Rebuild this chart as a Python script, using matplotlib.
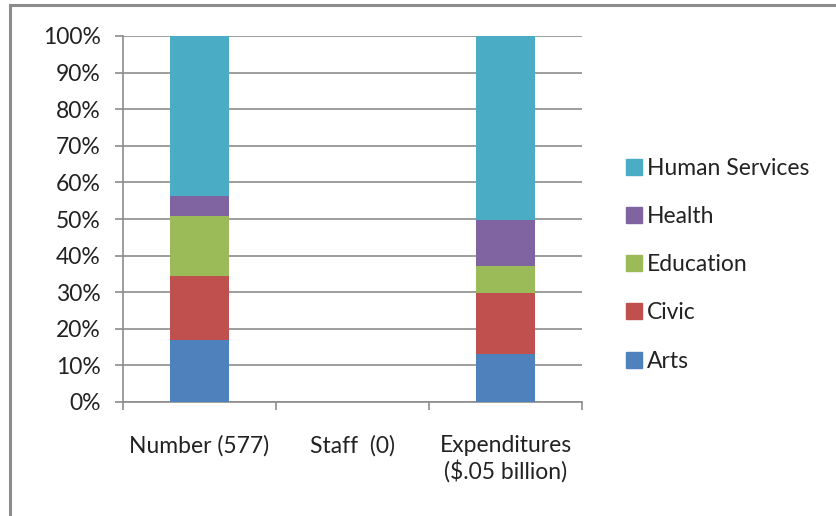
import matplotlib.pyplot as plt
import numpy as np
from matplotlib.lines import Line2D

plt.rcParams['font.family'] = ['Lato', 'DejaVu Sans']

categories = ['Number (577)', 'Staff  (0)', 'Expenditures\n($.05 billion)']
series = ['Arts', 'Civic', 'Education', 'Health', 'Human Services']
arts = [16.9, 0, 13.2]
civic = [17.6, 0, 16.7]
education = [16.4, 0, 7.3]
health = [5.4, 0, 12.4]
human_services = [43.7, 0, 50.4]
colors = ['#4f81bd', '#c0504d', '#9bbb59', '#8064a2', '#4bacc6']
yticks = list(range(0, 101, 10))

fig = plt.figure(figsize=(8.36, 5.16), dpi=100)
ax = fig.add_axes([123 / 836, 1 - 402 / 516, (582 - 123) / 836, 366 / 516])

x = np.arange(len(categories))
bottom = np.zeros(len(categories))
handles = []
for name, vals, c in zip(series, [arts, civic, education, health, human_services], colors):
    vals = np.array(vals)
    ax.bar(x, vals, bottom=bottom, width=0.39, color=c, zorder=3)
    bottom += vals
    handles.append(Line2D([], [], marker='s', linestyle='', markersize=11,
                          markerfacecolor=c, markeredgecolor=c, label=name))

ax.set_xlim(-0.5, 2.5)
ax.set_ylim(0, 100)
ax.set_yticks(yticks)
ax.set_yticklabels([f'{t}%' for t in yticks])
ax.yaxis.grid(True, color='#8c8c8c', linewidth=1.2, zorder=0)
for side in ['top', 'right']:
    ax.spines[side].set_visible(False)
for side in ['left', 'bottom']:
    ax.spines[side].set_color('#8c8c8c')
    ax.spines[side].set_linewidth(1.2)

# category labels sit between the tick marks at the category boundaries
ax.set_xticks([-0.5, 0.5, 1.5, 2.5])
ax.set_xticklabels([])
ax.set_xticks(x, minor=True)
ax.set_xticklabels(categories, minor=True, fontsize=16.5, color='#222222',
                   va='top', linespacing=1.15)
ax.tick_params(axis='x', which='minor', length=0, pad=24)
ax.tick_params(axis='x', which='major', length=6, color='#8c8c8c', width=1.2)
ax.tick_params(axis='y', length=6, color='#8c8c8c', width=1.2,
               labelsize=16.5, labelcolor='#222222', pad=10)

fig.legend(handles=handles[::-1], loc='upper left', bbox_to_anchor=(602 / 836, 1 - 137 / 516),
           frameon=False, fontsize=16.5, labelspacing=1.19, handletextpad=0.05,
           handlelength=1.0, labelcolor='#222222')

# frame edges on the left and top of the figure
fig.add_artist(Line2D([10 / 836, 10 / 836], [0, 1 - 5 / 516], color='#8c8c8c', linewidth=2.2))
fig.add_artist(Line2D([10 / 836, 1], [1 - 5 / 516, 1 - 5 / 516], color='#8c8c8c', linewidth=2.2))

fig.savefig('out.png', dpi=100)
